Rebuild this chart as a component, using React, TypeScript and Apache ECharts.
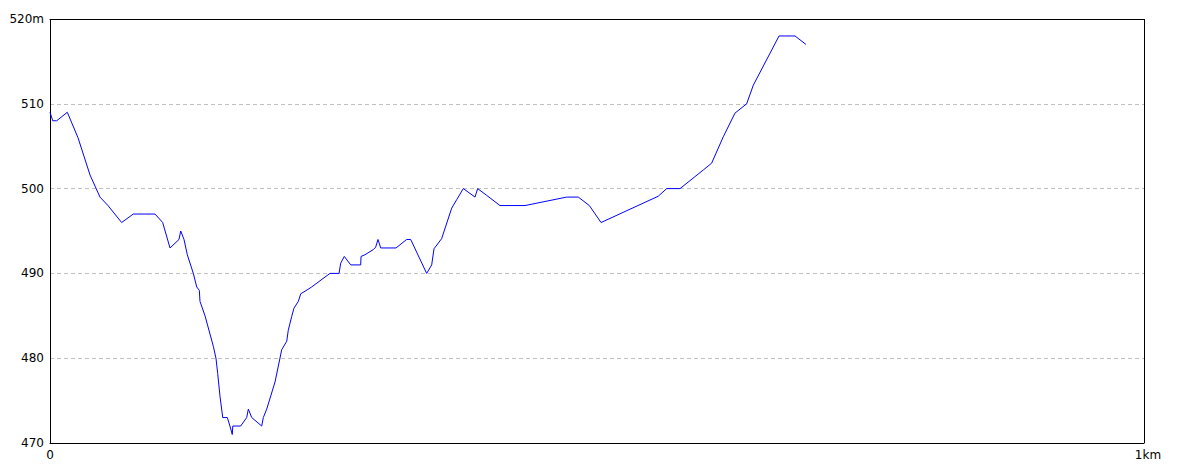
import React, { useEffect, useRef } from "react";
import * as echarts from "echarts";

// distance along route (km)
const distances: number[] = [
  0, 0.0025, 0.0061, 0.0158, 0.0256, 0.0366, 0.0457, 0.053, 0.0655, 0.0761,
  0.096, 0.103, 0.1097, 0.1179, 0.1195, 0.1225, 0.1255, 0.131, 0.1341, 0.1365,
  0.1371, 0.1417, 0.1493, 0.1517, 0.1533, 0.1554, 0.1579, 0.1621, 0.1645, 0.1666,
  0.1671, 0.1743, 0.1798, 0.1813, 0.1844, 0.1935, 0.195, 0.1981, 0.2057, 0.2118,
  0.2164, 0.2178, 0.2209, 0.223, 0.227, 0.2292, 0.2331, 0.2392, 0.2559, 0.2642,
  0.2657, 0.269, 0.2749, 0.284, 0.2843, 0.2879, 0.2955, 0.2977, 0.2998, 0.3023,
  0.3163, 0.326, 0.3297, 0.3443, 0.3489, 0.351, 0.358, 0.3672, 0.3718, 0.3778,
  0.3885, 0.3909, 0.3992, 0.4113, 0.4342, 0.4723, 0.4829, 0.493, 0.5037, 0.556,
  0.5637, 0.5759, 0.5972, 0.6048, 0.6154, 0.6261, 0.6368, 0.6429, 0.6664, 0.681,
  0.691,
];

// elevation (m)
const elevations: number[] = [
  509, 508, 508, 509, 506, 501.6, 499, 498, 496, 497,
  497, 496, 493, 494, 495, 494, 492.2, 490, 488.4, 488,
  486.7, 485, 481.4, 480, 478.2, 475.5, 473, 473, 472, 471,
  472, 472, 473, 474, 473, 472, 473, 474, 477.2, 481,
  482, 483.3, 484.9, 485.9, 486.7, 487.6, 487.9, 488.4, 490, 490,
  491.2, 492, 491, 491, 492, 492.2, 492.8, 493.1, 494, 493,
  493, 494, 494, 490, 491, 492.9, 494.1, 497.7, 498.7, 500,
  499, 500, 499.2, 498, 498, 499, 499, 498, 496, 499.1,
  500, 500, 502.2, 503, 506.1, 508.9, 510, 512.2, 518, 518,
  517,
];

const yTicks: number[] = [470, 480, 490, 500, 510, 520];
const xTicks: string[] = ["0", "1km"];

export default function App() {
  const ref = useRef<HTMLDivElement>(null);

  useEffect(() => {
    document.body.style.margin = "0";
    if (!ref.current) return;
    const chart = echarts.init(ref.current, undefined, { renderer: "svg" });
    const data = distances.map((d, i) => [d, elevations[i]]);
    chart.setOption({
      animation: false,
      backgroundColor: "#ffffff",
      grid: {
        left: 50,
        right: 40,
        top: 19,
        bottom: 30,
        show: false,
        containLabel: false,
      },
      xAxis: [
        {
          type: "value",
          position: "bottom",
          min: 0,
          max: 1,
          interval: 1,
          axisLine: { show: true, onZero: false, lineStyle: { color: "#000", width: 1 } },
          axisTick: { show: false },
          splitLine: { show: true, lineStyle: { color: "#000", width: 1, type: "solid" } },
          axisLabel: {
            color: "#000",
            fontSize: 12,
            fontFamily: "DejaVu Sans, sans-serif",
            margin: 6,
            formatter: (v: number) => (v === 0 ? "{a|" + xTicks[0] + "}" : "{b|" + xTicks[1] + "}"),
            rich: {
              a: { fontSize: 12, fontFamily: "DejaVu Sans, sans-serif", color: "#000" },
              b: { fontSize: 12, fontFamily: "DejaVu Sans, sans-serif", color: "#000", padding: [0, 0, 0, 8] },
            },
          },
        },
        {
          type: "value",
          position: "top",
          min: 0,
          max: 1,
          interval: 1,
          axisLine: { show: true, onZero: false, lineStyle: { color: "#000", width: 1 } },
          axisTick: { show: false },
          axisLabel: { show: false },
          splitLine: { show: false },
        },
      ],
      yAxis: {
        type: "value",
        min: yTicks[0],
        max: yTicks[yTicks.length - 1],
        interval: 10,
        axisLine: { show: false },
        axisTick: { show: false },
        axisLabel: {
          color: "#000",
          fontSize: 12,
          fontFamily: "DejaVu Sans, sans-serif",
          margin: 6,
          formatter: (v: number) => (v === yTicks[yTicks.length - 1] ? v + "m" : String(v)),
        },
        splitLine: {
          show: true,
          showMinLine: false,
          showMaxLine: false,
          lineStyle: { color: "#c0c0c0", type: [4, 3], width: 1 },
        },
      },
      series: [
        {
          type: "line",
          xAxisIndex: 0,
          data,
          showSymbol: false,
          symbol: "none",
          lineStyle: { color: "#0000ff", width: 1 },
          itemStyle: { color: "#0000ff" },
        },
      ],
    });
    return () => chart.dispose();
  }, []);

  return <div ref={ref} style={{ width: 1184, height: 473 }} />;
}
